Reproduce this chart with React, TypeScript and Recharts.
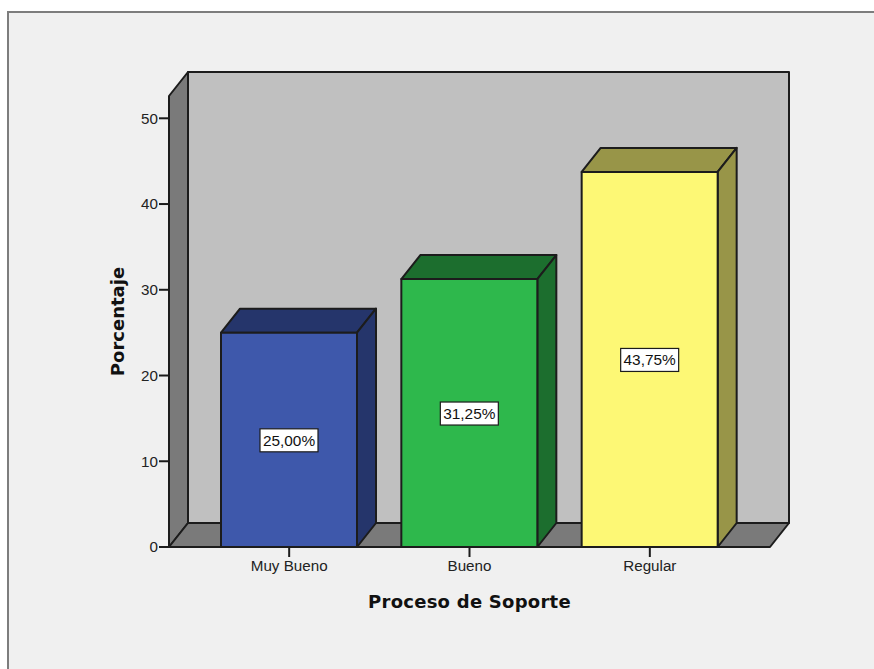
import { Bar, BarChart, LabelList, ReferenceArea, XAxis, YAxis } from "recharts";

const categories = ["Muy Bueno", "Bueno", "Regular"];
const percentages = [25, 31.25, 43.75];
const yTicks = [0, 10, 20, 30, 40, 50];
const Y_MAX = 52.6;

const faceColors = ["#3e58ab", "#2eb84c", "#fdf875"];
const shadeColors = ["#25356b", "#1c6e2e", "#989548"];

const data = categories.map((name, i) => ({ name, value: percentages[i] }));

// offset of the back plane relative to the front plane
const DX = 19;
const DY = -24;
// the category axis insets its range, the walls span the full plot
const X_PAD = 30;
const INK = "#1c1c1c";
const WALL = "#7a7a7a";
const FONT = "'Liberation Sans', Arial, sans-serif";
const TITLE_FONT = "'DejaVu Sans', sans-serif";

function Walls({ x: insetX, y, width: insetWidth, height }: any) {
  const x = insetX - X_PAD;
  const width = insetWidth + X_PAD * 2;
  const bottom = y + height;
  const right = x + width;
  return (
    <g stroke={INK} strokeWidth={2} strokeLinejoin="round">
      <rect x={x + DX} y={y + DY} width={width} height={height} fill="#c0c0c0" />
      <polygon
        points={`${x},${bottom} ${x},${y} ${x + DX},${y + DY} ${x + DX},${bottom + DY}`}
        fill={WALL}
      />
      <polygon
        points={`${x},${bottom} ${x + DX},${bottom + DY} ${right + DX},${bottom + DY} ${right},${bottom}`}
        fill={WALL}
      />
    </g>
  );
}

function Box3D({ x, y, width, height, index }: any) {
  const right = x + width;
  const bottom = y + height;
  return (
    <g stroke={INK} strokeWidth={2} strokeLinejoin="round">
      <polygon
        points={`${x},${y} ${x + DX},${y + DY} ${right + DX},${y + DY} ${right},${y}`}
        fill={shadeColors[index]}
      />
      <polygon
        points={`${right},${y} ${right + DX},${y + DY} ${right + DX},${bottom + DY} ${right},${bottom}`}
        fill={shadeColors[index]}
      />
      <rect x={x} y={y} width={width} height={height} fill={faceColors[index]} />
    </g>
  );
}

function ValueTag({ x, y, width, height, value }: any) {
  const text = value.toFixed(2).replace(".", ",") + "%";
  const cx = x + width / 2;
  const cy = y + height / 2;
  return (
    <g>
      <rect x={cx - 29} y={cy - 11} width={58} height={23} fill="#fff" stroke={INK} strokeWidth={1.2} />
      <text x={cx} y={cy + 6} textAnchor="middle" fontSize={15.4} fontFamily={FONT} fill="#111">
        {text}
      </text>
    </g>
  );
}

export default function App() {
  return (
    <div style={{ position: "absolute", left: 0, top: 0, width: 874, height: 669, background: "#fff", overflow: "hidden" }}>
      <div
        style={{
          position: "absolute",
          left: 7,
          top: 11,
          width: 880,
          height: 680,
          background: "#f0f0f0",
          border: "2px solid #7d7d7d",
        }}
      />
      <div style={{ position: "absolute", left: 0, top: 0 }}>
        <BarChart
          width={874}
          height={669}
          data={data}
          barSize={136}
          margin={{ top: 96, right: 104, bottom: 82, left: 109 }}
        >
          <ReferenceArea y1={0} y2={Y_MAX} shape={<Walls />} />
          <XAxis
            dataKey="name"
            height={40}
            padding={{ left: X_PAD, right: X_PAD }}
            tickSize={10}
            tickMargin={3}
            tickLine={{ stroke: INK, strokeWidth: 2 }}
            axisLine={{ stroke: INK, strokeWidth: 2 }}
            tick={{ fontSize: 15.2, fontFamily: FONT, fill: "#222" }}
            interval={0}
            label={{
              value: "Proceso de Soporte",
              position: "insideBottom",
              offset: -21,
              style: { fontSize: 18, fontWeight: 700, letterSpacing: 0.25, fontFamily: TITLE_FONT, fill: "#111" },
            }}
          />
          <YAxis
            width={60}
            domain={[0, Y_MAX]}
            ticks={yTicks}
            axisLine={false}
            tickSize={10}
            tickMargin={1}
            tickLine={{ stroke: INK, strokeWidth: 2 }}
            tick={{ fontSize: 15.2, fontFamily: FONT, fill: "#222" }}
            label={{
              value: "Porcentaje",
              angle: -90,
              position: "insideLeft",
              offset: 9,
              style: { textAnchor: "middle", fontSize: 18, fontWeight: 700, fontFamily: TITLE_FONT, fill: "#111" },
            }}
          />
          <Bar dataKey="value" isAnimationActive={false} shape={<Box3D />}>
            <LabelList dataKey="value" content={<ValueTag />} />
          </Bar>
        </BarChart>
      </div>
    </div>
  );
}
